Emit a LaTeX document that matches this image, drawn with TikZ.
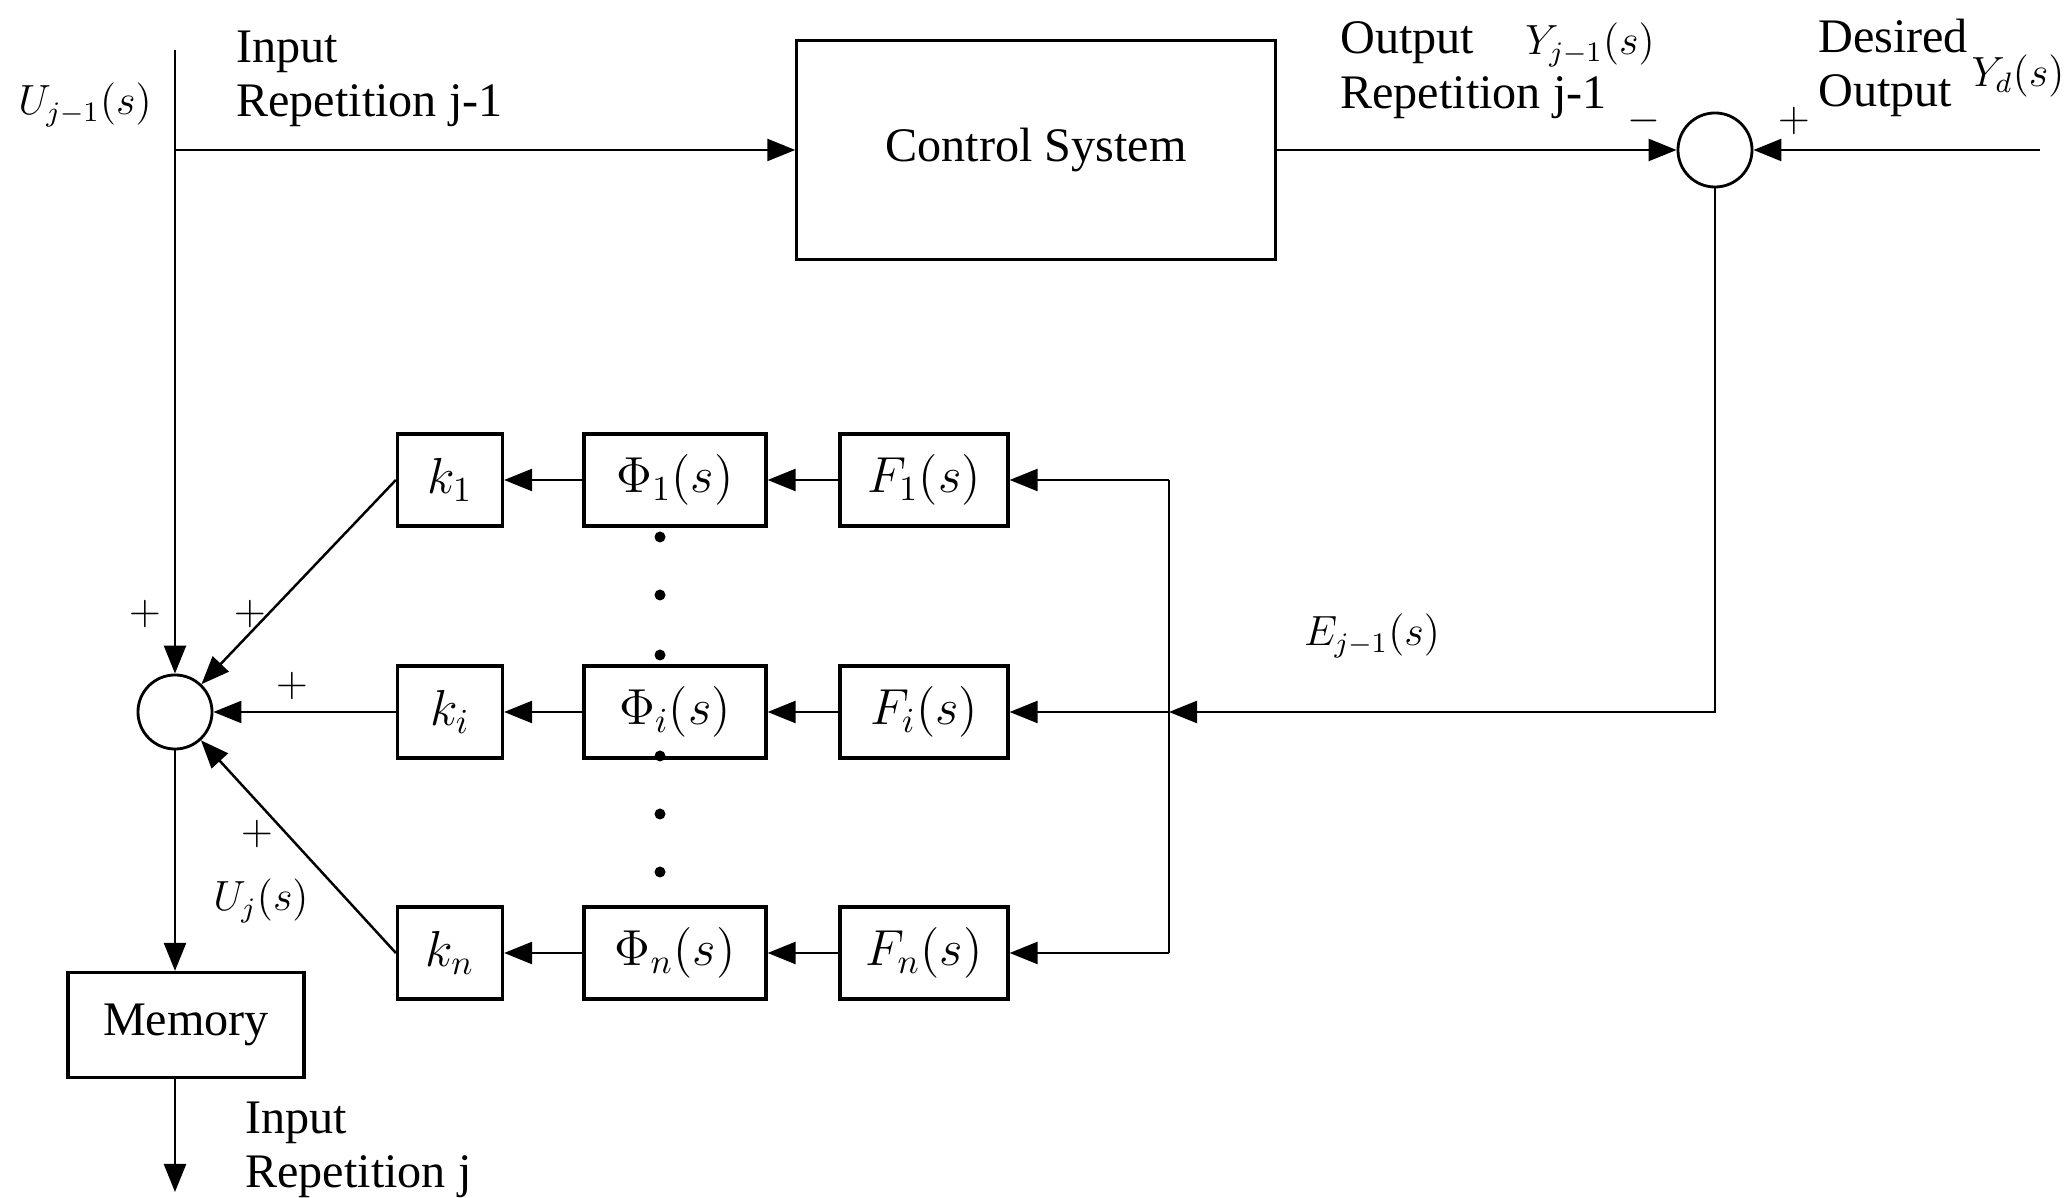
\documentclass[tikz,border=0pt]{standalone}
\usepackage{fontspec}
\setmainfont{Liberation Serif}
\usetikzlibrary{arrows.meta, calc}
\tikzset{
    blockbox/.style={draw, line width=0.9pt, minimum height=0.92cm, inner sep=2pt},
    kbox/.style={blockbox, minimum width=1.05cm},
    phibox/.style={blockbox, minimum width=1.82cm},
    filtbox/.style={blockbox, minimum width=1.68cm},
    sumnode/.style={draw, circle, line width=0.8pt, minimum size=0.74cm, inner sep=0pt},
    signlbl/.style={inner sep=0pt, font=\fontsize{12}{12}\selectfont},
    mathlbl/.style={inner sep=0pt, font=\fontsize{12}{12}\selectfont},
    vdot/.style={fill, circle, minimum size=0.11cm, inner sep=0pt},
    lbl/.style={align=left, inner sep=0pt},
}

\begin{document}
\begin{tikzpicture}[
    x=0.01cm, y=-0.01cm, line width=0.7pt,
    >={Triangle[length=2.8mm, width=2.2mm]},
    every node/.style={font=\fontsize{13.7}{15.5}\selectfont},
]
\useasboundingbox (0,0) rectangle (2065,1198);

\node[blockbox, minimum width=4.78cm, minimum height=2.19cm] (plant) at (1036,150) {Control System};
\node[sumnode] (sumR) at (1715,150) {};
\node[sumnode] (sumL) at (175,712) {};
\node[blockbox, minimum width=2.36cm, minimum height=1.05cm] (mem) at (186,1025) {Memory};

\coordinate (uin) at (175,50);
\coordinate (ydes) at (2040,150);
\coordinate (uout) at (175,1192);
\coordinate (busT) at (1169,480);
\coordinate (busM) at (1169,712);
\coordinate (busB) at (1169,953);

\foreach \idx/\yy in {1/480, i/712, n/953} {
    \node[kbox] (k\idx) at (450,\yy) {$k_\idx$};
    \node[phibox] (phi\idx) at (675,\yy) {$\Phi_\idx(s)$};
    \node[filtbox] (f\idx) at (924,\yy) {$F_\idx(s)$};
    \draw[->] (phi\idx) -- (k\idx);
    \draw[->] (f\idx) -- (phi\idx);
    \draw[->] (f\idx.east -| busT) -- (f\idx.east);
}
\foreach \yy in {537,595,655,756,814,872}
    \node[vdot] (dot\yy) at (660,\yy) {};

\draw[->] (uin) -- (sumL);
\draw[->] (uin |- plant.west) -- (plant.west);
\draw[->] (plant.east) -- (sumR.west);
\draw[->] (ydes) -- (sumR.east);
\draw[->] (sumR.south) |- (busM);
\draw (busT) -- (busB);
\draw[->] (k1.west) -- (sumL);
\draw[->] (ki.west) -- (sumL.east);
\draw[->] (kn.west) -- (sumL);
\draw[->] (sumL.south) -- (sumL.south |- mem.north);
\draw[->] (mem.south -| uout) -- (uout);

\node[lbl, anchor=west] (inlbl) at (235,79) {Input\\Repetition j-1};
\node[mathlbl] (ujm) at (85,105) {$U_{j-1}(s)$};
\node[lbl, anchor=west] (outlbl) at (1339,70) {Output\\Repetition j-1};
\node[mathlbl] (yjm) at (1590,45) {$Y_{j-1}(s)$};
\node[lbl, anchor=west] (deslbl) at (1817,68) {Desired\\Output};
\node[mathlbl] (yd) at (2018,76) {$Y_d(s)$};
\node[signlbl] (minusR) at (1644,121) {$-$};
\node[signlbl] (plusR) at (1794,121) {$+$};
\node[mathlbl] (ejm) at (1372,636) {$E_{j-1}(s)$};
\node[signlbl] (plusA) at (145,614) {$+$};
\node[signlbl] (plusB) at (250,614) {$+$};
\node[signlbl] (plusC) at (292,686) {$+$};
\node[signlbl] (plusD) at (257,834) {$+$};
\node[mathlbl] (uj) at (261,901) {$U_j(s)$};
\node[lbl, anchor=west] (outin) at (244,1150) {Input\\Repetition j};
\end{tikzpicture}
\end{document}
